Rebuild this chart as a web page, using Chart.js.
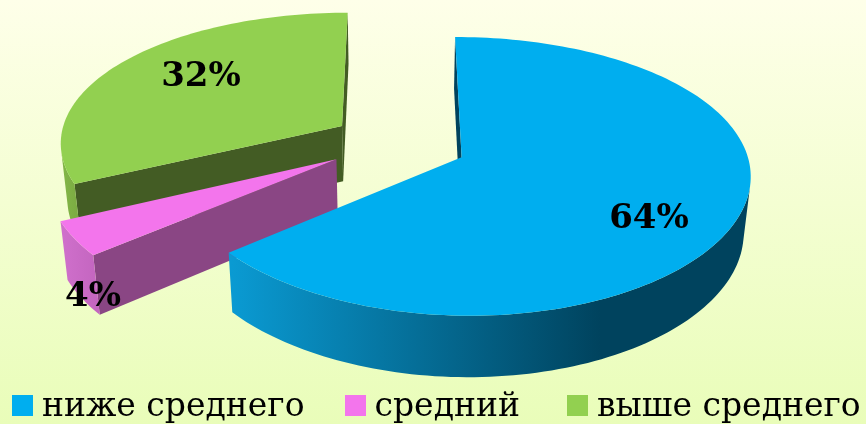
<!DOCTYPE html>
<html>
<head>
<meta charset="utf-8">
<style>
  html, body { margin: 0; padding: 0; width: 866px; height: 424px; overflow: hidden; background: linear-gradient(#feffe9, #e9fdb9); }
  canvas { display: block; }
  #legend { position: absolute; left: 12px; top: 385px; display: flex; font: 33px/40px "DejaVu Serif"; color: #000; white-space: nowrap; }
  #legend .item { display: flex; align-items: flex-start; margin-right: 40px; }
  #legend .item:nth-child(2) { margin-right: 47px; }
  #legend .box { width: 21px; height: 21px; margin: 10px 9px 0 0; }
</style>
<script src="https://cdn.jsdelivr.net/npm/chart.js@4/dist/chart.umd.min.js"></script>
</head>
<body>
<canvas id="chart" width="866" height="424"></canvas>
<div id="legend"></div>
<script>
const categories = ['ниже среднего', 'средний', 'выше среднего'];
const percents = [64, 4, 32];
const topColors = ['#00aeef', '#f375ec', '#92d050'];

const EXPLODE = 0.24;
const CAM = { cx: 398, cy: 143.5, a: 283, b: 133, d: 57, px: 0.113, py: 0.135, q: 0.02 };

// one colour per slice: outer wall from left to right, and the cut face
const sides = [
  { wall: ['#0a9ad2', '#00435e', 232, 600], cut: '#00435e', nudge: [0.005, 0] },
  { wall: ['#d070cc', '#c466c0', 60, 96], cut: '#8a4684', nudge: [-0.012, -0.012] },
  { wall: ['#84b848', '#7aa942', 60, 80], cut: '#435c24', nudge: [0.002, -0.005] }
];
const labelSpots = [[649, 219], [93, 297], [201, 77]];

function project (u, v, z) {
  const wx = 1 - CAM.px * v + CAM.q * z;
  const wy = 1 - CAM.py * v + CAM.q * z;
  return [CAM.cx + CAM.a * u / wx, CAM.cy + (CAM.b * v + CAM.d * z) / wy];
}

function fillPoly (ctx, pts, color) {
  ctx.beginPath();
  pts.forEach((pt, i) => (i ? ctx.lineTo(pt[0], pt[1]) : ctx.moveTo(pt[0], pt[1])));
  ctx.closePath();
  ctx.fillStyle = color;
  ctx.fill();
}

// walls are only visible when they wind against the top face
function facing (q) {
  let area = 0;
  q.forEach((pt, i) => {
    const n = q[(i + 1) % q.length];
    area += pt[0] * n[1] - n[0] * pt[1];
  });
  return area < 0;
}

const pie3d = {
  id: 'pie3d',
  beforeDatasetDraw (chart, args) {
    const ctx = chart.ctx;
    const arcs = chart.getDatasetMeta(args.index).data;
    ctx.save();
    [2, 1, 0].forEach(i => {
      const el = arcs[i];
      const side = sides[i];
      const mid = (el.startAngle + el.endAngle) / 2;
      const ou = EXPLODE * Math.cos(mid) + side.nudge[0];
      const ov = EXPLODE * Math.sin(mid) + side.nudge[1];
      const steps = Math.ceil((el.endAngle - el.startAngle) * 40);
      const rim = [];
      for (let s = 0; s <= steps; s++) {
        const t = el.startAngle + (el.endAngle - el.startAngle) * s / steps;
        rim.push([ou + Math.cos(t), ov + Math.sin(t)]);
      }
      const grad = ctx.createLinearGradient(side.wall[2], 0, side.wall[3], 0);
      grad.addColorStop(0, side.wall[0]);
      grad.addColorStop(1, side.wall[1]);

      const quad = (p1, p2) => [project(p1[0], p1[1], 0), project(p2[0], p2[1], 0), project(p2[0], p2[1], 1), project(p1[0], p1[1], 1)];
      const apex = [ou, ov];
      [quad(apex, rim[0]), quad(rim[steps], apex)].forEach(q => {
        if (facing(q)) fillPoly(ctx, q, side.cut);
      });

      // outer wall as one polygon, otherwise the gradient shows seams
      const upper = [];
      const lower = [];
      for (let s = 0; s < steps; s++) {
        const q = quad(rim[s], rim[s + 1]);
        if (facing(q)) {
          if (!upper.length) { upper.push(q[0]); lower.push(q[3]); }
          upper.push(q[1]);
          lower.push(q[2]);
        }
      }
      if (upper.length) fillPoly(ctx, upper.concat(lower.reverse()), grad);

      const top = [apex].concat(rim).map(pt => project(pt[0], pt[1], 0));
      fillPoly(ctx, top, topColors[i]);
    });
    ctx.restore();
    return false;
  },
  afterDatasetsDraw (chart) {
    const ctx = chart.ctx;
    ctx.save();
    ctx.font = 'bold 34px "DejaVu Serif"';
    ctx.fillStyle = '#000';
    ctx.textAlign = 'center';
    ctx.textBaseline = 'middle';
    percents.forEach((val, i) => ctx.fillText(val + '%', labelSpots[i][0], labelSpots[i][1]));
    ctx.restore();
  }
};

new Chart(document.getElementById('chart'), {
  type: 'pie',
  data: {
    labels: categories,
    datasets: [{ data: percents, backgroundColor: topColors, borderWidth: 0 }]
  },
  options: {
    responsive: false,
    animation: false,
    plugins: {
      tooltip: { enabled: false },
      legend: { display: false }
    }
  },
  plugins: [pie3d]
});

const legendEl = document.getElementById('legend');
categories.forEach((name, i) => {
  const item = document.createElement('div');
  item.className = 'item';
  const box = document.createElement('span');
  box.className = 'box';
  box.style.background = topColors[i];
  item.appendChild(box);
  item.appendChild(document.createTextNode(name));
  legendEl.appendChild(item);
});
</script>
</body>
</html>
